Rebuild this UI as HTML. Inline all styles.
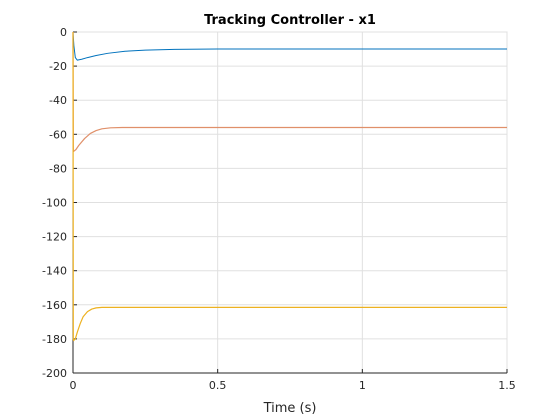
<!DOCTYPE html>
<html><head><meta charset="utf-8"><style>
body{margin:0;background:#fff;}
svg{display:block;font-family:"DejaVu Sans","Liberation Sans",sans-serif;}
</style></head><body>
<svg id="chart" width="560" height="420" viewBox="0 0 560 420">
<rect width="560" height="420" fill="#fff"/>
<g id="grid"></g>
<g id="axes"></g>
<g id="series"></g>
<text x="290" y="24" text-anchor="middle" font-size="13" font-weight="bold" fill="#000">Tracking Controller - x1</text>
<text x="290" y="412" text-anchor="middle" font-size="13" fill="#262626">Time (s)</text>
</svg>
<script>
const xTicks=[0,0.5,1,1.5];
const xTickLabels=["0","0.5","1","1.5"];
const yTicks=[0,-20,-40,-60,-80,-100,-120,-140,-160,-180,-200];
const yTickLabels=["0","-20","-40","-60","-80","-100","-120","-140","-160","-180","-200"];
const blueT=[0,0.003,0.008,0.015,0.03,0.05,0.08,0.12,0.18,0.25,0.35,0.5,1,1.5];
const blueV=[0,-8,-15,-16.5,-16,-15,-13.8,-12.5,-11.3,-10.6,-10.2,-10,-10,-10];
const orangeT=[0,0.001,0.002,0.01,0.02,0.04,0.06,0.08,0.1,0.13,0.17,0.25,0.5,1,1.5];
const orangeV=[0,-70,-70,-69,-66.5,-62.5,-59.5,-57.8,-56.8,-56.2,-56,-56,-56,-56,-56];
const yellowT=[0,0.001,0.002,0.008,0.015,0.025,0.035,0.05,0.065,0.08,0.1,0.15,0.5,1,1.5];
const yellowV=[0,-180,-181,-180,-176,-171,-167,-164,-162.5,-161.8,-161.5,-161.5,-161.5,-161.5,-161.5];
const X0=73,X1=507,Y0=32,Y1=373;
const sx=v=>X0+(v-0)/(1.5)*(X1-X0);
const sy=v=>Y0+(0-v)/200*(Y1-Y0);
const NS="http://www.w3.org/2000/svg";
function mk(tag,attrs,parent){const e=document.createElementNS(NS,tag);for(const k in attrs)e.setAttribute(k,attrs[k]);parent.appendChild(e);return e;}
const grid=document.getElementById('grid'),axes=document.getElementById('axes'),ser=document.getElementById('series');
mk('rect',{x:X0,y:Y0,width:X1-X0,height:Y1-Y0,fill:'none',stroke:'#d9d9d9'},grid);
yTicks.forEach((t,i)=>{
 const y=sy(t);
 const g=mk('line',{x1:X0,x2:X1,y1:y,y2:y,stroke:'#e0e0e0','stroke-width':1},grid);
 
 
 mk('line',{x1:X0,x2:X0+4,y1:y,y2:y,stroke:'#262626'},axes);
 const tx=mk('text',{x:X0-6,y:y+4,'text-anchor':'end','font-size':11,fill:'#262626'},axes);
 tx.textContent=yTickLabels[i];
 
 
});
xTicks.forEach((t,i)=>{
 const x=sx(t);
 const g=mk('line',{x1:x,x2:x,y1:Y0,y2:Y1,stroke:'#e0e0e0','stroke-width':1},grid);
 
 
 mk('line',{x1:x,x2:x,y1:Y1,y2:Y1-4,stroke:'#262626'},axes);
 const tx=mk('text',{x:x,y:Y1+16,'text-anchor':'middle','font-size':11,fill:'#262626'},axes);
 tx.textContent=xTickLabels[i];
 
 
});
mk('line',{x1:X0,x2:X0,y1:Y0,y2:Y1,stroke:'#262626'},axes);
mk('line',{x1:X0,x2:X1,y1:Y1,y2:Y1,stroke:'#262626'},axes);
function line(T,V,color,name,w){
 const d=T.map((t,i)=>(i?'L':'M')+sx(t).toFixed(2)+','+sy(V[i]).toFixed(2)).join(' ');
 const p=mk('path',{d:d,fill:'none',stroke:color,'stroke-width':w,'stroke-linejoin':'round'},ser);
 
 
}
line(blueT,blueV,'#0072bd','series-x1-blue',1);
line(orangeT,orangeV,'#e0906a','series-x1-orange',1.2);
line(yellowT,yellowV,'#edb120','series-x1-yellow',1.2);
</script>
</body></html>
